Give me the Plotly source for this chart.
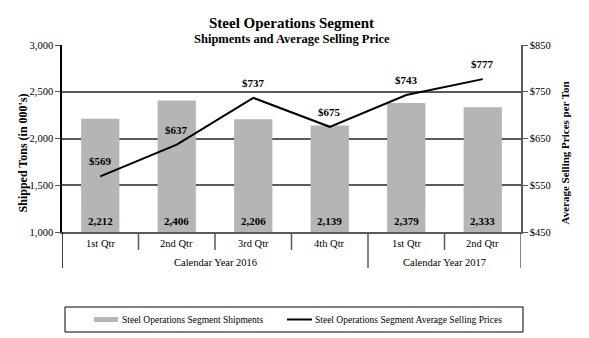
import plotly.graph_objects as go

quarters = ["1st Qtr", "2nd Qtr", "3rd Qtr", "4th Qtr", "1st Qtr", "2nd Qtr"]
years = ["Calendar Year 2016", "Calendar Year 2017"]
year_spans = [(0, 3), (4, 5)]
shipments = [2212, 2406, 2206, 2139, 2379, 2333]
prices = [569, 637, 737, 675, 743, 777]
left_ticks = [1000, 1500, 2000, 2500, 3000]
right_ticks = [450, 550, 650, 750, 850]

FONT = "Liberation Serif"
GRID = "#5a5a5a"
xs = list(range(len(quarters)))

fig = go.Figure()
fig.add_trace(go.Bar(x=xs, y=shipments, marker=dict(color="#b5b5b5", line=dict(width=0)),
                     width=0.5, base=0, yaxis="y", showlegend=False, hoverinfo="skip"))
fig.add_trace(go.Scatter(x=xs, y=prices, mode="lines", line=dict(color="black", width=2),
                         yaxis="y2", showlegend=False, hoverinfo="skip"))

ann = []
# titles
ann.append(dict(text="<b>Steel Operations Segment</b>", x=0.5, y=1.0, xref="paper", yref="paper",
                yshift=32, showarrow=False, font=dict(size=15, family=FONT, color="black")))
ann.append(dict(text="<b>Shipments and Average Selling Price</b>", x=0.5, y=1.0, xref="paper", yref="paper",
                yshift=15, showarrow=False, font=dict(size=12.5, family=FONT, color="black")))
# bar value labels
for x, v in zip(xs, shipments):
    ann.append(dict(text="<b>{:,}</b>".format(v), x=x, y=1000, xref="x", yref="y", yanchor="bottom",
                    yshift=3, showarrow=False, font=dict(size=11, family=FONT, color="black")))
# price labels
for x, p in zip(xs, prices):
    ann.append(dict(text="<b>${}</b>".format(p), x=x, y=p, xref="x", yref="y2", yanchor="middle",
                    yshift=15, showarrow=False, font=dict(size=11, family=FONT, color="black")))
# category labels
for x, q in zip(xs, quarters):
    ann.append(dict(text=q, x=x, y=-0.059, xref="x", yref="paper", yanchor="middle",
                    showarrow=False, font=dict(size=10.5, family=FONT, color="black")))
for (a, b), yl in zip(year_spans, years):
    ann.append(dict(text=yl, x=(a + b) / 2, y=-0.162, xref="x", yref="paper", yanchor="middle",
                    showarrow=False, font=dict(size=10.5, family=FONT, color="black")))
# axis titles
ann.append(dict(text="<b>Shipped Tons (in 000's)</b>", x=(14 - 62) / 459, y=0.42, xref="paper", yref="paper",
                textangle=-90, showarrow=False, font=dict(size=12, family=FONT, color="black")))
ann.append(dict(text="<b>Average Selling Prices per Ton</b>", x=(573 - 62) / 459, y=0.42, xref="paper",
                yref="paper", textangle=-90, showarrow=False, font=dict(size=11, family=FONT, color="black")))

shapes = []
# separators
for s in [0.5, 1.5, 2.5, 4.5]:
    shapes.append(dict(type="line", xref="x", yref="paper", x0=s, x1=s, y0=0, y1=-0.096,
                       line=dict(color=GRID, width=1.5)))
for s in [-0.5, 3.5, 5.5]:
    shapes.append(dict(type="line", xref="x", yref="paper", x0=s, x1=s, y0=0, y1=-0.193,
                       line=dict(color=GRID if s != -0.5 else "black", width=1.5)))

# legend (manual)
def px(x):
    return (x - 62) / 459
def py(y):
    return (232 - y) / 187

shapes.append(dict(type="rect", xref="paper", yref="paper", x0=px(65), x1=px(523), y0=py(307), y1=py(332),
                   line=dict(color="black", width=1), fillcolor="white"))
shapes.append(dict(type="rect", xref="paper", yref="paper", x0=px(94), x1=px(118), y0=py(317), y1=py(322),
                   line=dict(width=0), fillcolor="#b5b5b5"))
shapes.append(dict(type="line", xref="paper", yref="paper", x0=px(287), x1=px(312), y0=py(319.5), y1=py(319.5),
                   line=dict(color="black", width=2)))
ann.append(dict(text="Steel Operations Segment Shipments", x=px(120), y=py(319.5), xref="paper", yref="paper",
                xanchor="left", yanchor="middle", showarrow=False, font=dict(size=9.5, family=FONT, color="black")))
ann.append(dict(text="Steel Operations Segment Average Selling Prices", x=px(313), y=py(319.5), xref="paper",
                yref="paper", xanchor="left", yanchor="middle", showarrow=False,
                font=dict(size=9.5, family=FONT, color="black")))

fig.update_layout(
    width=589, height=338,
    margin=dict(l=62, r=68, t=45, b=106),
    paper_bgcolor="white", plot_bgcolor="white",
    bargap=0.5,
    xaxis=dict(range=[-0.5, 5.5], showticklabels=False, showgrid=False, zeroline=False,
               showline=True, linecolor=GRID, linewidth=2, ticks="", fixedrange=True),
    yaxis=dict(range=[1000, 3000], tickvals=left_ticks, ticktext=["{:,}".format(t) for t in left_ticks],
               showgrid=True, gridcolor=GRID, gridwidth=1.5, zeroline=False,
               showline=True, linecolor="black", linewidth=1.5, ticks="outside", ticklen=5, tickcolor=GRID,
               tickfont=dict(size=10.5, family=FONT, color="black")),
    yaxis2=dict(range=[450, 850], tickvals=right_ticks, ticktext=["${}".format(t) for t in right_ticks],
                overlaying="y", side="right", showgrid=False, zeroline=False,
                showline=True, linecolor=GRID, linewidth=1.5, ticks="outside", ticklen=5, tickcolor=GRID,
                tickfont=dict(size=10.5, family=FONT, color="black")),
    annotations=ann, shapes=shapes, showlegend=False,
)

fig.write_html("out.html")
